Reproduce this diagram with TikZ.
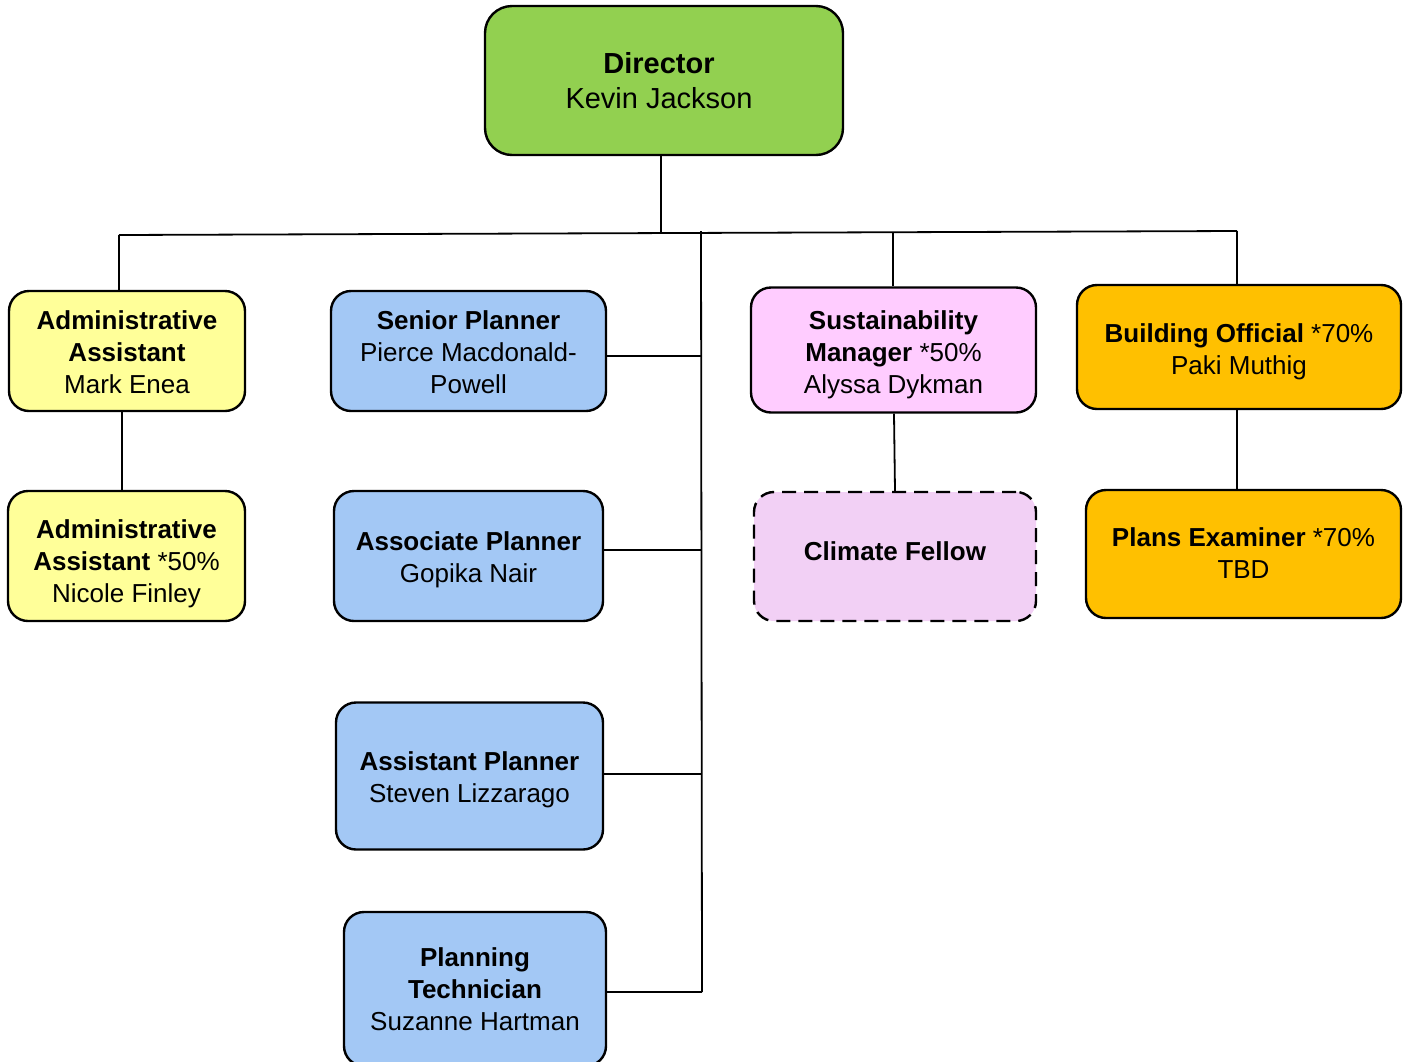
\documentclass[tikz,border=0pt]{standalone}
\usepackage{fontspec}
\setmainfont{Liberation Sans}
\definecolor{dirgreen}{HTML}{92D050}
\definecolor{admyellow}{HTML}{FFFF99}
\definecolor{planblue}{HTML}{A3C8F5}
\definecolor{sustpink}{HTML}{FFCCFF}
\definecolor{fellowpink}{HTML}{F2D0F5}
\definecolor{bldorange}{HTML}{FFC000}
\tikzset{
  box/.style={draw, line width=2.4pt, rounded corners=20pt, inner sep=0pt},
  txt/.style={align=center, inner sep=0pt, font=\fontsize{26}{32}\selectfont},
  conn/.style={line width=2.6pt},
  thinconn/.style={line width=1.8pt},
}
\begin{document}
\begin{tikzpicture}[x=1pt,y=-1pt]
\useasboundingbox (0,0) rectangle (1409,1061);
\clip (0,0) rectangle (1409,1061);
% boxes
\node[box, fill=dirgreen, rounded corners=27pt, minimum width=358pt, minimum height=149pt] (dir) at (664,80.5) {};
\node[box, fill=admyellow, minimum width=236pt, minimum height=120pt] (adm1) at (127,351) {};
\node[box, fill=admyellow, minimum width=237pt, minimum height=130pt] (adm2) at (126.5,556) {};
\node[box, fill=planblue, minimum width=275pt, minimum height=120pt] (sen) at (468.5,351) {};
\node[box, fill=planblue, minimum width=269pt, minimum height=130pt] (asc) at (468.5,556) {};
\node[box, fill=planblue, minimum width=267pt, minimum height=147pt] (ast) at (469.5,776) {};
\node[box, fill=planblue, minimum width=262pt, minimum height=154pt] (tech) at (475,989) {};
\node[box, fill=sustpink, minimum width=285pt, minimum height=125pt] (sus) at (893.5,350) {};
\node[box, fill=fellowpink, dashed, dash pattern=on 14pt off 8pt, minimum width=282pt, minimum height=129pt] (fel) at (895,556.5) {};
\node[box, fill=bldorange, minimum width=324pt, minimum height=124pt] (bld) at (1239,347) {};
\node[box, fill=bldorange, minimum width=315pt, minimum height=128pt] (pex) at (1243.5,554) {};
% texts
\node[txt, font=\fontsize{29}{35}\selectfont] (dirt) at ([xshift=-5pt]dir.center) {\textbf{Director}\\Kevin Jackson};
\node[txt] (adm1t) at ([yshift=-1pt]adm1.center) {\textbf{Administrative}\\\textbf{Assistant}\\Mark Enea};
\node[txt] (adm2t) at ([yshift=-8pt]adm2.center) {\textbf{Administrative}\\\textbf{Assistant} *50\%\\Nicole Finley};
\node[txt] (sent) at ([yshift=-1pt]sen.center) {\textbf{Senior Planner}\\Pierce Macdonald-\\Powell};
\node[txt] (asct) at ([yshift=-4pt]asc.center) {\textbf{Associate Planner}\\Gopika Nair};
\node[txt] (astt) at ([yshift=-4pt]ast.center) {\textbf{Assistant Planner}\\Steven Lizzarago};
\node[txt] (techt) at (tech.center) {\textbf{Planning}\\\textbf{Technician}\\Suzanne Hartman};
\node[txt] (sust) at ([yshift=-5pt]sus.center) {\textbf{Sustainability}\\\textbf{Manager} *50\%\\Alyssa Dykman};
\node[txt] (felt) at ([yshift=5pt]fel.center) {\textbf{Climate Fellow}};
\node[txt] (bldt) at ([yshift=-5pt]bld.center) {\textbf{Building Official} *70\%\\Paki Muthig};
\node[txt] (pext) at ([yshift=1pt]pex.center) {\textbf{Plans Examiner} *70\%\\TBD};
% connector coordinates
\coordinate (hl) at (119,235);
\coordinate (hr) at (1237,231);
\coordinate (vtop) at (701,231);
\coordinate (vbot) at (702,992);
% connectors
\draw[conn] (661,155) -- (661,233);
\draw[thinconn] (hl) -- (hr);
\draw[conn] (hl) -- (adm1.north -| hl);
\draw[conn] (adm1.south -| 122,0) -- (adm2.north -| 122,0);
\draw[thinconn] (vtop) -- (vbot);
\draw[thinconn] (sen.east |- 0,356) -- (701,356);
\draw[conn] (asc.east |- 0,550) -- (701,550);
\draw[conn] (ast.east |- 0,774) -- (701,774);
\draw[thinconn] (tech.east |- vbot) -- (vbot);
\draw[conn] (sus.north -| 893,0) -- (893,232);
\draw[thinconn] (sus.south -| 894,0) -- (fel.north -| 895,0);
\draw[conn] (bld.north -| hr) -- (hr);
\draw[conn] (bld.south -| hr) -- (pex.north -| hr);
\end{tikzpicture}
\end{document}
